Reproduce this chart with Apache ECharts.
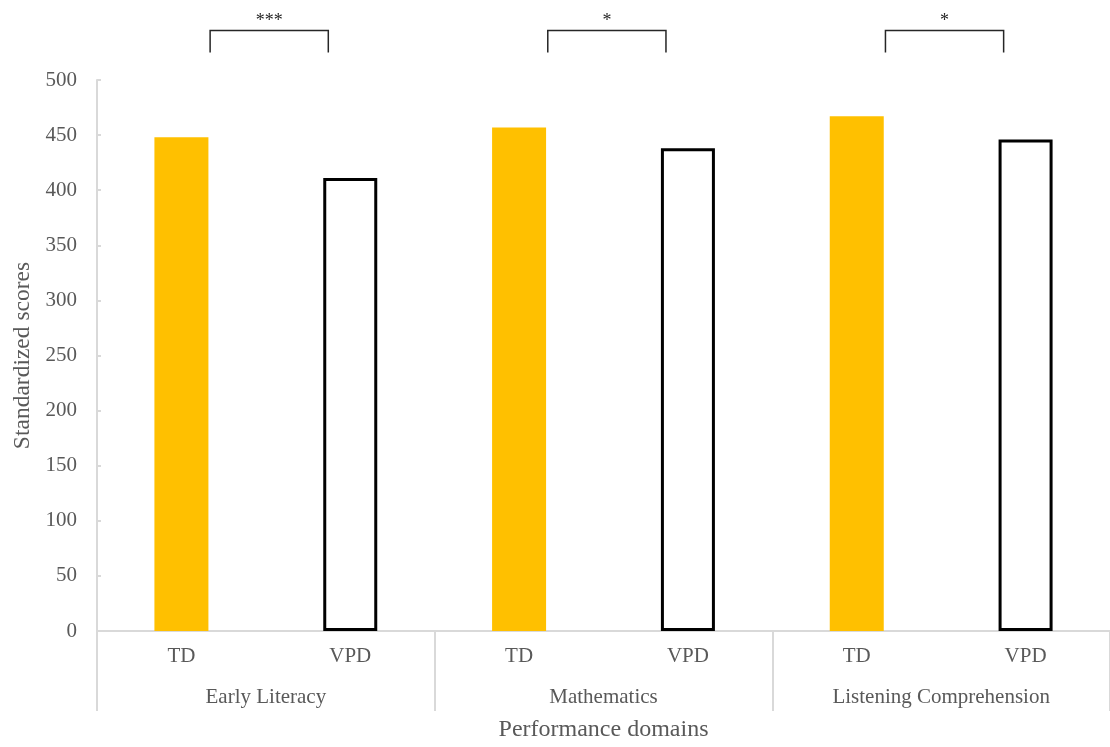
<!DOCTYPE html>
<html>
<head>
<meta charset="utf-8">
<script src="https://cdn.jsdelivr.net/npm/echarts@6/dist/echarts.min.js"></script>
<style>
  html, body { margin: 0; padding: 0; background: #ffffff; overflow: hidden; width: 1110px; height: 747px; }
  #chart { width: 1110px; height: 747px; }
</style>
</head>
<body>
<div id="chart"></div>
<script>
// ---- data ----
const groups = ['Early Literacy', 'Mathematics', 'Listening Comprehension'];
const subCategories = ['TD', 'VPD'];
const tdScores = [448, 457, 467];
const vpdScores = [411, 438, 446];
const significance = ['***', '*', '*'];
const yTicks = { min: 0, max: 500, interval: 50 };
const bracketTop = 545;
const bracketBottom = 525;
const starLevel = 553;

// ---- derived ----
const xCategories = [];
const tdData = [];
const vpdData = [];
groups.forEach((g, i) => {
  xCategories.push(subCategories[0], subCategories[1]);
  tdData.push(tdScores[i], '-');
  vpdData.push('-', vpdScores[i]);
});
const bracketData = groups.map((g, i) => [2 * i, 2 * i + 1, bracketTop, bracketBottom, starLevel, significance[i]]);

const FONT = '"Liberation Serif", "DejaVu Serif", serif';
const GRAY_TEXT = '#595959';
const AXIS_GRAY = '#d9d9d9';

const chart = echarts.init(document.getElementById('chart'));
chart.setOption({
  animation: false,
  backgroundColor: '#ffffff',
  grid: { left: 97, top: 80, width: 1022, bottom: 109, containLabel: false },
  xAxis: [
    {
      type: 'category',
      data: xCategories,
      position: 'bottom',
      axisLine: { show: true, lineStyle: { color: AXIS_GRAY, width: 2 } },
      axisTick: { show: false },
      axisLabel: { color: GRAY_TEXT, fontFamily: FONT, fontSize: 21, margin: 15 },
      splitLine: { show: false }
    },
    {
      type: 'category',
      data: groups,
      position: 'bottom',
      axisLine: { show: false },
      axisTick: { show: true, length: 80, inside: false, lineStyle: { color: AXIS_GRAY, width: 2 } },
      axisLabel: { color: GRAY_TEXT, fontFamily: FONT, fontSize: 21, margin: 56 },
      splitLine: { show: false },
      name: 'Performance domains',
      nameLocation: 'middle',
      nameGap: 87,
      nameTextStyle: { color: GRAY_TEXT, fontFamily: FONT, fontSize: 24 }
    }
  ],
  yAxis: {
    type: 'value',
    min: yTicks.min,
    max: yTicks.max,
    interval: yTicks.interval,
    axisLine: { show: true, lineStyle: { color: AXIS_GRAY, width: 2 } },
    axisTick: { show: true, inside: true, length: 4, lineStyle: { color: AXIS_GRAY, width: 2 } },
    axisLabel: { color: GRAY_TEXT, fontFamily: FONT, fontSize: 21, margin: 20 },
    splitLine: { show: false },
    name: 'Standardized scores',
    nameLocation: 'middle',
    nameGap: 62,
    nameTextStyle: { color: GRAY_TEXT, fontFamily: FONT, fontSize: 23.5 }
  },
  series: [
    {
      name: 'TD',
      type: 'bar',
      xAxisIndex: 0,
      data: tdData,
      barWidth: 54,
      barGap: '-100%',
      itemStyle: { color: '#FFC000' }
    },
    {
      name: 'VPD',
      type: 'bar',
      xAxisIndex: 0,
      data: vpdData,
      barWidth: 54,
      barGap: '-100%',
      itemStyle: { color: '#ffffff', borderColor: '#000000', borderWidth: 3 }
    },
    {
      type: 'custom',
      xAxisIndex: 0,
      clip: false,
      silent: true,
      z: 5,
      encode: { x: [0, 1], y: [2, 3] },
      data: bracketData,
      renderItem: function (params, api) {
        const band = api.size([1, 0])[0];
        const pTd = api.coord([api.value(0), api.value(2)]);
        const pVpd = api.coord([api.value(1), api.value(2)]);
        const yBottom = api.coord([api.value(0), api.value(3)])[1];
        const yStar = api.coord([api.value(0), api.value(4)])[1];
        const xL = pTd[0] + 0.17 * band;
        const xR = pVpd[0] - 0.13 * band;
        const yT = pTd[1];
        return {
          type: 'group',
          children: [
            {
              type: 'polyline',
              shape: { points: [[xL, yBottom], [xL, yT], [xR, yT], [xR, yBottom]] },
              style: { stroke: '#262626', lineWidth: 1.5, fill: null }
            },
            {
              type: 'text',
              style: {
                x: (xL + xR) / 2,
                y: yStar,
                text: api.value(5),
                textAlign: 'center',
                textVerticalAlign: 'middle',
                fontFamily: FONT,
                fontSize: 18,
                fill: '#262626'
              }
            }
          ]
        };
      }
    }
  ]
});
</script>
</body>
</html>
